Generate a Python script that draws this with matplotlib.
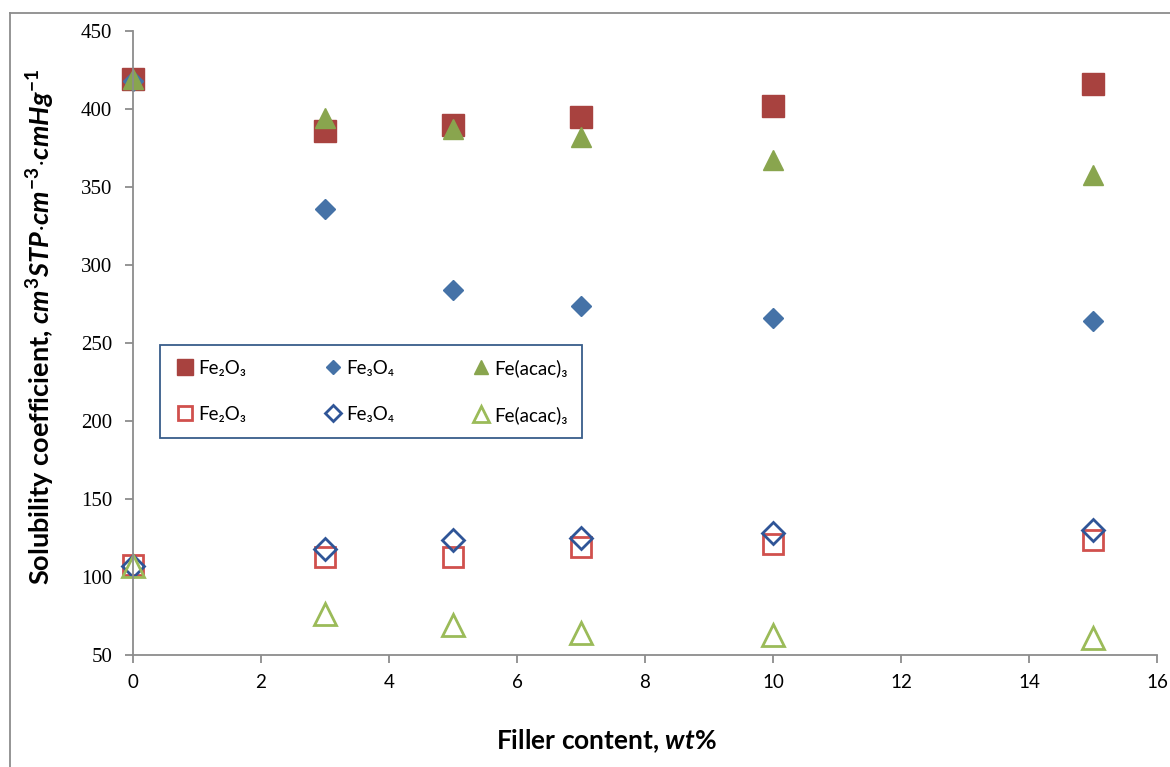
import matplotlib.pyplot as plt
from matplotlib.lines import Line2D

plt.rcParams['mathtext.fontset'] = 'custom'
plt.rcParams['mathtext.it'] = 'Lato:bold:italic'
plt.rcParams['mathtext.rm'] = 'Lato:bold'
plt.rcParams['mathtext.bf'] = 'Lato:bold'

# filler content (wt%)
x = [0, 3, 5, 7, 10, 15]

# filled markers
fe2o3_filled = [419, 386, 390, 395, 402, 416]
fe3o4_filled = [418, 336, 284, 274, 266, 264]
feacac_filled = [419, 394, 387, 382, 367, 358]

# open markers
fe2o3_open = [108, 113, 113, 119, 121, 124]
fe3o4_open = [107, 118, 124, 125, 128, 130]
feacac_open = [107, 76, 69, 64, 63, 61]

xticks = [0, 2, 4, 6, 8, 10, 12, 14, 16]
yticks = [50, 100, 150, 200, 250, 300, 350, 400, 450]

fig = plt.figure(figsize=(11.7, 7.67), dpi=100)
ax = fig.add_axes([133/1170, 1-655/767, 1024/1170, 624/767])

h1, = ax.plot(x, fe2o3_filled, 's', ms=15.5, color='#A8423F', mec='#A8423F',
              label='Fe₂O₃', clip_on=False)
h2, = ax.plot(x, fe3o4_filled, 'D', ms=10.5, color='#4572A7', mec='#4572A7',
              label='Fe₃O₄', clip_on=False)
h3, = ax.plot(x, feacac_filled, '^', ms=15, color='#89A54E', mec='#89A54E',
              label='Fe(acac)₃', clip_on=False)
h4, = ax.plot(x, fe2o3_open, 's', ms=15, mfc='none', mec='#D0504D', mew=2,
              label='Fe₂O₃', clip_on=False)
h5, = ax.plot(x, fe3o4_open, 'D', ms=11, mfc='none', mec='#2F5597', mew=2,
              label='Fe₃O₄', clip_on=False)
h6, = ax.plot(x, feacac_open, '^', ms=15.5, mfc='none', mec='#9BBB59', mew=2,
              label='Fe(acac)₃', clip_on=False)

ax.set_xlim(0, 16)
ax.set_ylim(50, 450)
ax.set_xticks(xticks)
ax.set_yticks(yticks)

for s in ['top', 'right']:
    ax.spines[s].set_visible(False)
for s in ['left', 'bottom']:
    ax.spines[s].set_color('#8C8C8C')
    ax.spines[s].set_linewidth(1.3)
ax.tick_params(axis='both', direction='out', length=6, width=1.3, color='#8C8C8C')
ax.tick_params(axis='x', pad=8)
ax.tick_params(axis='y', pad=9)

for lab in ax.get_xticklabels():
    lab.set_family('Lato')
    lab.set_fontsize(13.5)
for lab in ax.get_yticklabels():
    lab.set_family('Liberation Serif')
    lab.set_fontsize(15)

ax.set_xlabel('Filler content, $wt\\%$', family='Lato', fontweight='bold',
              fontsize=19)
ax.xaxis.set_label_coords(0.462, -0.116)
ax.set_ylabel('Solubility coefficient, $cm^{3}STP{\\cdot}cm^{-3}{\\cdot}cmHg^{-1}$',
              family='Lato', fontweight='bold', fontsize=19.5)
ax.yaxis.set_label_coords(-0.074, 0.527)

handles = [h1, h4, h2, h5, h3, h6]
leg = ax.legend(handles, [h.get_label() for h in handles],
                ncol=3, loc='lower left', bbox_to_anchor=(0.0264, 0.348, 0.412, 0.142),
                mode='expand', borderaxespad=0, fancybox=False, framealpha=1,
                edgecolor='#385D8A',
                prop={'family': ['Lato', 'DejaVu Sans'], 'size': 13.5},
                labelspacing=1.55, handletextpad=0.1, handlelength=1.2,
                borderpad=0.75, numpoints=1, markerscale=0.7)
leg.get_frame().set_linewidth(1.3)

# outer border of the chart area
fig.add_artist(Line2D([10/1170, 10/1170], [0, 1-13/767], color='#8C8C8C', lw=1.3))
fig.add_artist(Line2D([10/1170, 1], [1-13/767, 1-13/767], color='#8C8C8C', lw=1.3))

plt.savefig('out.png', dpi=100)
